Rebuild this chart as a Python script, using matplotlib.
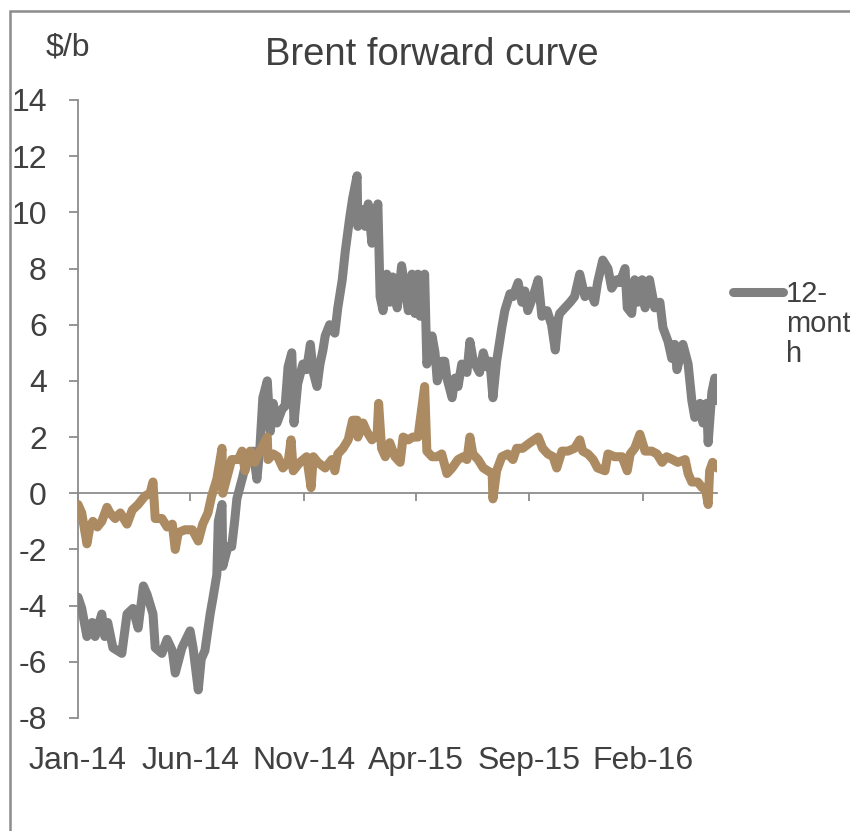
import pandas as pd
import matplotlib
matplotlib.use("Agg")
from matplotlib import pyplot as plt
from matplotlib.lines import Line2D
from matplotlib.patches import Rectangle

plt.rcParams["font.family"] = ["Liberation Sans", "DejaVu Sans"]

# 12-month spread, $/b
spread_12m_dates = [
    "2014-01-01", "2014-01-06", "2014-01-13", "2014-01-20", "2014-01-24", "2014-02-02",
    "2014-02-06", "2014-02-10", "2014-02-17", "2014-03-01", "2014-03-08", "2014-03-16",
    "2014-03-23", "2014-03-30", "2014-04-04", "2014-04-12", "2014-04-15", "2014-04-24",
    "2014-05-01", "2014-05-08", "2014-05-12", "2014-05-21", "2014-06-01", "2014-06-05",
    "2014-06-12", "2014-06-16", "2014-06-21", "2014-06-28", "2014-07-02", "2014-07-07",
    "2014-07-09", "2014-07-14", "2014-07-15", "2014-07-22", "2014-07-27", "2014-07-31",
    "2014-08-03", "2014-08-07", "2014-08-11", "2014-08-18", "2014-08-25", "2014-08-30",
    "2014-09-03", "2014-09-07", "2014-09-13", "2014-09-17", "2014-09-21", "2014-09-26",
    "2014-10-03", "2014-10-07", "2014-10-11", "2014-10-16", "2014-10-19", "2014-10-24",
    "2014-10-31", "2014-11-05", "2014-11-10", "2014-11-14", "2014-11-19", "2014-11-23",
    "2014-11-27", "2014-11-30", "2014-12-06", "2014-12-13", "2014-12-17", "2014-12-23",
    "2014-12-27", "2015-01-02", "2015-01-06", "2015-01-12", "2015-01-13", "2015-01-19",
    "2015-01-23", "2015-01-27", "2015-02-01", "2015-02-04", "2015-02-09", "2015-02-12",
    "2015-02-16", "2015-02-21", "2015-02-25", "2015-03-01", "2015-03-07", "2015-03-13",
    "2015-03-22", "2015-03-27", "2015-03-31", "2015-04-04", "2015-04-07", "2015-04-13",
    "2015-04-15", "2015-04-16", "2015-04-23", "2015-04-27", "2015-04-30", "2015-05-06",
    "2015-05-10", "2015-05-13", "2015-05-20", "2015-05-24", "2015-05-28", "2015-06-02",
    "2015-06-09", "2015-06-13", "2015-06-17", "2015-06-22", "2015-06-26", "2015-07-01",
    "2015-07-06", "2015-07-10", "2015-07-14", "2015-07-19", "2015-07-26", "2015-07-30",
    "2015-08-06", "2015-08-10", "2015-08-17", "2015-08-22", "2015-08-26", "2015-08-30",
    "2015-09-06", "2015-09-13", "2015-09-18", "2015-09-25", "2015-10-01", "2015-10-06",
    "2015-10-10", "2015-10-12", "2015-10-19", "2015-10-26", "2015-11-01", "2015-11-08",
    "2015-11-15", "2015-11-22", "2015-11-28", "2015-12-02", "2015-12-09", "2015-12-16",
    "2015-12-21", "2015-12-28", "2016-01-01", "2016-01-08", "2016-01-11", "2016-01-17",
    "2016-01-21", "2016-01-25", "2016-01-31", "2016-02-04", "2016-02-10", "2016-02-17",
    "2016-02-24", "2016-02-28", "2016-03-06", "2016-03-11", "2016-03-15", "2016-03-18",
    "2016-03-26", "2016-04-02", "2016-04-07", "2016-04-11", "2016-04-18", "2016-04-22",
    "2016-04-27", "2016-04-29", "2016-05-04", "2016-05-08", "2016-05-11",
]
spread_12m = [
    -3.7, -4.1, -5.1, -4.6, -5.1, -4.3,
    -5.1, -4.6, -5.5, -5.7, -4.3, -4.1,
    -4.8, -3.3, -3.6, -4.3, -5.5, -5.7,
    -5.2, -5.6, -6.4, -5.5, -4.9, -5.5,
    -7.0, -5.9, -5.6, -4.3, -3.7, -2.9,
    -1.0, -0.4, -2.6, -1.9, -1.9, -1.0,
    -0.2, 0.2, 0.6, 1.4, 1.5, 0.5,
    1.6, 3.4, 4.0, 2.2, 3.2, 2.5,
    3.0, 3.1, 4.5, 5.0, 2.5, 3.9,
    4.6, 4.4, 5.3, 4.3, 3.8, 4.6,
    5.1, 5.6, 6.0, 5.7, 6.6, 7.6,
    8.6, 9.8, 10.5, 11.3, 9.5, 10.1,
    9.5, 10.3, 8.9, 9.5, 10.3, 7.0,
    6.5, 7.8, 6.8, 7.7, 6.6, 8.1,
    6.5, 7.8, 6.4, 7.8, 6.3, 7.8,
    5.7, 4.6, 5.6, 5.0, 4.0, 4.7,
    4.7, 4.1, 3.4, 4.1, 3.8, 4.6,
    4.3, 5.4, 4.8, 4.5, 4.3, 5.0,
    4.5, 4.7, 3.4, 4.7, 5.9, 6.5,
    7.1, 7.0, 7.5, 6.8, 7.2, 6.5,
    7.0, 7.6, 6.3, 6.5, 6.0, 5.1,
    6.2, 6.4, 6.6, 6.8, 7.0, 7.8,
    7.0, 7.2, 6.8, 7.5, 8.3, 8.0,
    7.3, 7.6, 7.5, 8.0, 6.6, 6.4,
    7.6, 6.8, 7.6, 6.6, 7.6, 6.6,
    6.8, 5.9, 5.4, 4.8, 5.3, 4.4,
    5.3, 4.6, 3.3, 2.7, 3.2, 2.5,
    3.2, 1.8, 3.6, 4.1, 3.3,
]

# shorter-dated spread, $/b
spread_short_dates = [
    "2014-01-01", "2014-01-06", "2014-01-13", "2014-01-17", "2014-01-21", "2014-01-27",
    "2014-02-02", "2014-02-09", "2014-02-13", "2014-02-20", "2014-02-27", "2014-03-08",
    "2014-03-15", "2014-03-23", "2014-04-01", "2014-04-08", "2014-04-12", "2014-04-15",
    "2014-04-24", "2014-05-01", "2014-05-08", "2014-05-12", "2014-05-16", "2014-05-25",
    "2014-06-04", "2014-06-12", "2014-06-18", "2014-06-25", "2014-06-30", "2014-07-07",
    "2014-07-14", "2014-07-15", "2014-07-21", "2014-07-27", "2014-07-31", "2014-08-05",
    "2014-08-10", "2014-08-14", "2014-08-21", "2014-08-27", "2014-09-03", "2014-09-13",
    "2014-09-14", "2014-09-21", "2014-09-27", "2014-10-04", "2014-10-11", "2014-10-15",
    "2014-10-18", "2014-10-27", "2014-11-05", "2014-11-11", "2014-11-14", "2014-11-20",
    "2014-11-30", "2014-12-09", "2014-12-13", "2014-12-17", "2014-12-24", "2014-12-31",
    "2015-01-06", "2015-01-12", "2015-01-13", "2015-01-20", "2015-01-25", "2015-02-01",
    "2015-02-08", "2015-02-10", "2015-02-14", "2015-02-19", "2015-02-25", "2015-03-04",
    "2015-03-11", "2015-03-15", "2015-03-22", "2015-03-28", "2015-04-04", "2015-04-13",
    "2015-04-16", "2015-04-23", "2015-04-30", "2015-05-06", "2015-05-13", "2015-05-20",
    "2015-05-28", "2015-06-04", "2015-06-09", "2015-06-13", "2015-06-17", "2015-06-24",
    "2015-07-01", "2015-07-07", "2015-07-13", "2015-07-14", "2015-07-19", "2015-07-26",
    "2015-08-03", "2015-08-10", "2015-08-15", "2015-08-23", "2015-09-02", "2015-09-13",
    "2015-09-19", "2015-09-26", "2015-10-03", "2015-10-08", "2015-10-15", "2015-10-23",
    "2015-11-01", "2015-11-08", "2015-11-12", "2015-11-19", "2015-11-26", "2015-12-02",
    "2015-12-12", "2015-12-16", "2015-12-25", "2016-01-04", "2016-01-11", "2016-01-15",
    "2016-01-21", "2016-01-28", "2016-02-04", "2016-02-13", "2016-02-20", "2016-02-27",
    "2016-03-04", "2016-03-12", "2016-03-19", "2016-03-29", "2016-04-02", "2016-04-07",
    "2016-04-15", "2016-04-21", "2016-04-25", "2016-04-29", "2016-05-01", "2016-05-05",
    "2016-05-11",
]
spread_short = [
    -0.4, -0.7, -1.8, -1.2, -1.0, -1.2,
    -1.0, -0.5, -0.7, -0.9, -0.7, -1.1,
    -0.6, -0.4, -0.1, 0.0, 0.4, -0.9,
    -0.9, -1.2, -1.1, -2.0, -1.4, -1.3,
    -1.3, -1.7, -1.1, -0.7, -0.1, 0.5,
    1.6, 0.0, 0.6, 1.2, 1.2, 1.2,
    1.5, 0.8, 1.5, 1.1, 1.5, 2.0,
    1.2, 1.4, 1.3, 0.9, 1.1, 1.9,
    0.8, 1.1, 1.3, 0.2, 1.3, 1.1,
    0.9, 1.2, 0.8, 1.4, 1.6, 1.9,
    2.6, 2.6, 2.0, 2.5, 2.2, 1.9,
    2.1, 3.2, 1.6, 1.3, 1.8, 1.3,
    1.1, 2.0, 1.9, 2.0, 2.0, 3.8,
    1.5, 1.3, 1.3, 1.4, 0.7, 0.9,
    1.2, 1.3, 1.2, 2.0, 1.4, 1.2,
    0.9, 0.8, 0.7, -0.2, 0.8, 1.3,
    1.4, 1.2, 1.6, 1.6, 1.8, 2.0,
    1.6, 1.4, 1.3, 0.9, 1.5, 1.5,
    1.6, 1.9, 1.5, 1.4, 1.2, 0.9,
    0.8, 1.4, 1.3, 1.3, 0.8, 1.4,
    1.6, 2.1, 1.5, 1.5, 1.4, 1.1,
    1.3, 1.2, 1.1, 1.2, 0.7, 0.4,
    0.4, 0.2, 0.2, -0.4, 0.8, 1.1,
    0.9,
]

tick_dates = ["2014-01-01", "2014-06-01", "2014-11-01", "2015-04-01", "2015-09-01", "2016-02-01"]
tick_labels = ["Jan-14", "Jun-14", "Nov-14", "Apr-15", "Sep-15", "Feb-16"]
y_ticks = list(range(-8, 15, 2))

GREY = "#808080"
TAN = "#AC8B62"
AXIS = "#8C8C8C"
TEXT = "#404040"

x_long = pd.to_datetime(spread_12m_dates)
x_short = pd.to_datetime(spread_short_dates)
ticks = pd.to_datetime(tick_dates)

fig = plt.figure(figsize=(8.5, 8.31), dpi=100)
ax = fig.add_axes([0.0918, 0.136, 0.7518, 0.7437])

line_kw = dict(lw=6.5, solid_joinstyle="round", solid_capstyle="round")
ax.plot(x_long, spread_12m, color=GREY, zorder=3, **line_kw)
ax.plot(x_short, spread_short, color=TAN, zorder=3, **line_kw)

ax.set_ylim(-8, 14)
ax.set_xlim(x_long[0], x_long[-1])
ax.set_yticks(y_ticks)
ax.set_yticklabels([str(v) for v in y_ticks])

for side in ["top", "right"]:
    ax.spines[side].set_visible(False)
ax.spines["left"].set_color(AXIS)
ax.spines["left"].set_linewidth(1.3)
ax.spines["bottom"].set_position(("data", 0))
ax.spines["bottom"].set_color(AXIS)
ax.spines["bottom"].set_linewidth(1.3)
ax.spines["bottom"].set_zorder(2)

ax.set_xticks(ticks)
ax.tick_params(axis="x", direction="out", length=6, width=1.3, color=AXIS, labelbottom=False)
ax.tick_params(axis="y", direction="out", length=6.5, width=1.3, color=AXIS,
               labelsize=23, labelcolor=TEXT, pad=16)

# date labels sit under the plot, not on the zero line
sec = ax.secondary_xaxis("bottom")
sec.set_xticks(ticks)
sec.set_xticklabels(tick_labels)
sec.tick_params(length=0, pad=20, labelsize=23, labelcolor=TEXT)
sec.spines["bottom"].set_visible(False)

fig.text(0.508, 0.934, "Brent forward curve", ha="center", va="center", fontsize=27.5, color=TEXT)
fig.text(0.080, 0.943, "$/b", ha="center", va="center", fontsize=23, color=TEXT)

# legend entry for the 12-month series
fig.add_artist(Line2D([0.862, 0.921], [0.6486, 0.6486], transform=fig.transFigure,
                      color=GREY, lw=6.5, solid_capstyle="round"))
fig.text(0.925, 0.663, "12-\nmont\nh", ha="left", va="top", fontsize=21, color=TEXT,
         linespacing=1.1)

# outer chart frame
fig.add_artist(Rectangle((0.0118, -0.05), 1.2, 1.037, transform=fig.transFigure,
                         fill=False, edgecolor=AXIS, lw=1.8))

fig.savefig("out.png", dpi=100)
